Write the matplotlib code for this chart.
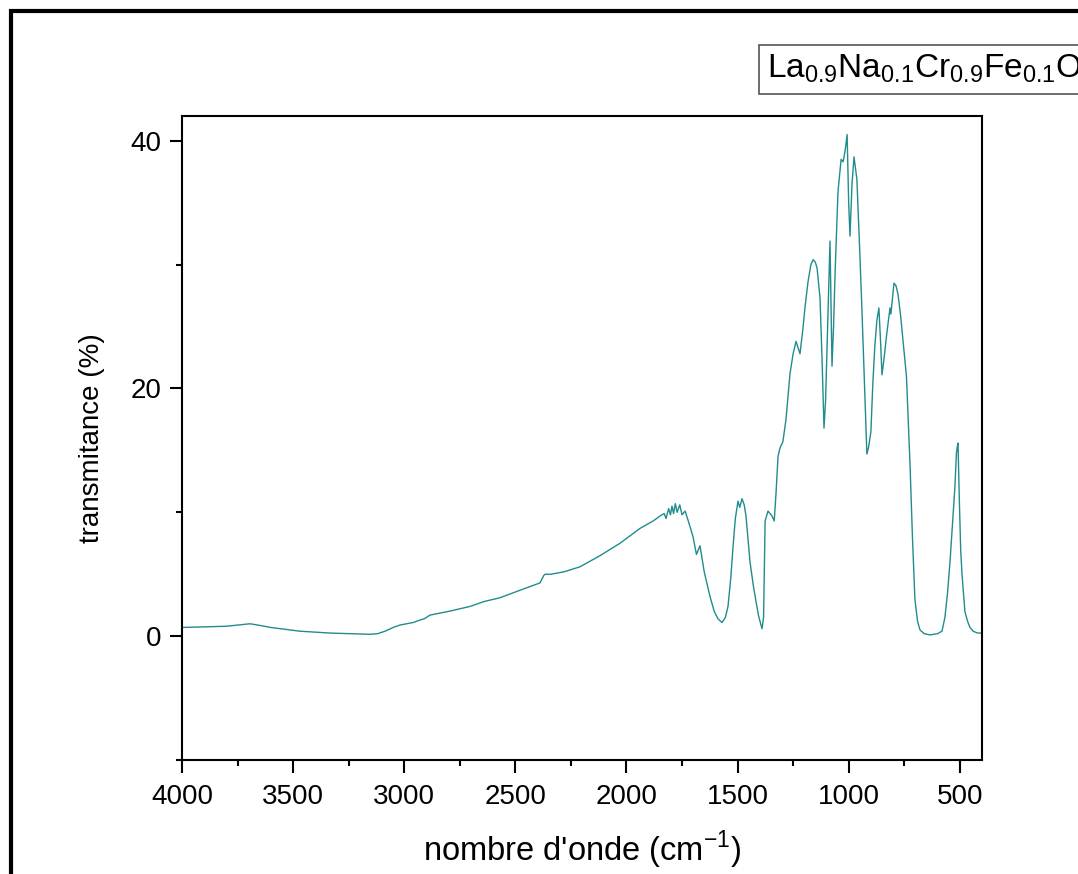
import matplotlib
matplotlib.use("Agg")
import matplotlib.pyplot as plt
import matplotlib.patches
from matplotlib.ticker import MultipleLocator

# FTIR spectrum (wavenumber in cm-1, transmittance in %)
# rows of 10 points, both lists aligned
wavenumber = [4000, 3900, 3800, 3720, 3694, 3660, 3600, 3469, 3334, 3250,
              3154, 3120, 3086, 3050, 3019, 2960, 2929, 2910, 2884, 2800,
              2704, 2640, 2569, 2480, 2389, 2372, 2366, 2340, 2280, 2209,
              2119, 2029, 1939, 1880, 1849, 1830, 1822, 1810, 1802, 1795,
              1788, 1780, 1772, 1760, 1750, 1736, 1720, 1700, 1685, 1669,
              1650, 1624, 1605, 1588, 1570, 1555, 1543, 1530, 1520, 1510,
              1498, 1490, 1480, 1470, 1462, 1444, 1430, 1417, 1405, 1399,
              1390, 1383, 1376, 1363, 1345, 1335, 1327, 1318, 1309, 1296,
              1282, 1264, 1250, 1237, 1228, 1219, 1206, 1195, 1183, 1170,
              1160, 1150, 1142, 1129, 1120, 1111, 1104, 1097, 1084, 1075,
              1068, 1061, 1048, 1034, 1025, 1016, 1007, 1000, 994, 985,
              976, 963, 950, 940, 930, 918, 910, 900, 891, 882,
              873, 864, 857, 850, 841, 828, 814, 810, 796, 787,
              778, 767, 756, 740, 724, 713, 702, 690, 679, 660,
              634, 600, 580, 567, 555, 544, 533, 522, 515, 511,
              508, 502, 496, 490, 477, 465, 454, 440, 420, 400]
transmittance = [0.7, 0.75, 0.8, 0.95, 1.0, 0.9, 0.7, 0.4, 0.25, 0.2,
                 0.15, 0.2, 0.4, 0.7, 0.9, 1.1, 1.3, 1.4, 1.7, 2.0,
                 2.4, 2.8, 3.1, 3.7, 4.3, 4.9, 5.0, 5.0, 5.2, 5.6,
                 6.5, 7.5, 8.7, 9.3, 9.7, 9.9, 9.5, 10.3, 9.8, 10.5,
                 9.9, 10.7, 10.0, 10.6, 9.8, 10.1, 9.2, 8.0, 6.6, 7.3,
                 5.2, 3.2, 2.0, 1.4, 1.1, 1.5, 2.4, 4.8, 7.3, 9.5,
                 10.9, 10.4, 11.1, 10.6, 9.7, 6.0, 4.2, 2.8, 1.6, 1.2,
                 0.6, 1.5, 9.3, 10.1, 9.7, 9.3, 11.5, 14.5, 15.2, 15.7,
                 17.5, 21.2, 22.8, 23.8, 23.3, 22.8, 24.8, 26.8, 28.6, 30.0,
                 30.4, 30.2, 29.7, 27.3, 22.5, 16.8, 19.0, 23.5, 31.9, 21.8,
                 25.0, 29.4, 35.9, 38.5, 38.3, 39.2, 40.5, 35.0, 32.3, 36.5,
                 38.7, 36.9, 31.0, 26.2, 21.0, 14.7, 15.3, 16.5, 20.5, 23.5,
                 25.5, 26.5, 24.0, 21.1, 22.4, 24.5, 26.5, 26.0, 28.5, 28.3,
                 27.6, 26.0, 24.0, 21.0, 13.9, 8.0, 3.0, 1.2, 0.5, 0.2,
                 0.1, 0.2, 0.4, 1.5, 3.5, 6.0, 9.0, 12.0, 14.8, 15.3,
                 15.6, 11.0, 7.0, 5.0, 2.0, 1.2, 0.7, 0.4, 0.25, 0.25]

legend_text = r"$\mathregular{La_{0.9}Na_{0.1}Cr_{0.9}Fe_{0.1}O_3}$"
line_color = "#218c8c"

plt.rcParams['font.family'] = ['Liberation Sans', 'DejaVu Sans']
plt.rcParams['mathtext.fontset'] = 'custom'
plt.rcParams['mathtext.rm'] = 'Liberation Sans'

fig = plt.figure(figsize=(10.78, 8.74), dpi=100)
ax = fig.add_axes([182 / 1078, 1 - 760 / 874, 800 / 1078, 644 / 874])

ax.plot(wavenumber, transmittance, color=line_color, linewidth=1.0)

ax.set_xlim(4000, 400)
ax.set_ylim(-10, 42)
ax.xaxis.set_major_locator(MultipleLocator(500))
ax.xaxis.set_minor_locator(MultipleLocator(250))
ax.yaxis.set_major_locator(MultipleLocator(20))
ax.yaxis.set_minor_locator(MultipleLocator(10))
ax.tick_params(which='major', direction='out', length=9, width=1.5, pad=6, labelsize=20)
ax.tick_params(which='minor', direction='out', length=4.5, width=1.5)
ax.tick_params(axis='x', pad=8)
for s in ax.spines.values():
    s.set_linewidth(1.5)

ax.set_xlabel("nombre d'onde (cm$^{-1}$)", fontsize=23.5, labelpad=14)
ax.set_ylabel("transmitance (%)", fontsize=20, labelpad=18)

# outer frame (runs off the right and bottom edge)
frame = matplotlib.patches.Rectangle((10.5 / 1078, -0.1), 1.2, 1 - 10.5 / 874 + 0.1,
                                     transform=fig.transFigure, fill=False,
                                     edgecolor='black', linewidth=3)
fig.patches.append(frame)

# the sample label box is clipped by the right edge, as in the original figure
fig.text(767 / 1078, 1 - 78 / 874, legend_text, fontsize=24, va='baseline', ha='left',
         bbox=dict(boxstyle='square,pad=0.25', facecolor='white', edgecolor='#555555', linewidth=1.2))

fig.savefig("out.png", dpi=100)
